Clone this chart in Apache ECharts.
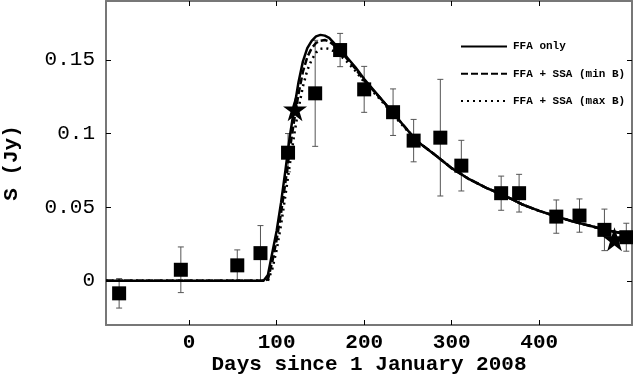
<!DOCTYPE html>
<html>
<head>
<meta charset="utf-8">
<script src="https://cdn.jsdelivr.net/npm/echarts@6/dist/echarts.min.js"></script>
<style>
  html, body { margin: 0; padding: 0; background: #fff; }
  #main { width: 633px; height: 375px; }
</style>
</head>
<body>
<div id="main"></div>
<script>
// observed points (days, flux, 1-sigma error)
var days    = [-80, -9.5, 55, 81.5, 113, 144, 172.5, 200, 233, 256.5, 287, 311, 356.5, 377, 419.5, 446, 474.5, 499.5];
var flux    = [-0.0085, 0.0075, 0.0105, 0.0188, 0.087, 0.1273, 0.1567, 0.130, 0.1145, 0.0952, 0.0972, 0.0782, 0.0595, 0.0595, 0.0436, 0.0443, 0.0346, 0.0296];
var fluxErr = [0.010, 0.0155, 0.0105, 0.0187, 0.013, 0.036, 0.0113, 0.0156, 0.0158, 0.0144, 0.0396, 0.0172, 0.0116, 0.0128, 0.0113, 0.0113, 0.0141, 0.0095];

// star markers
var starDays = [121, 486];
var starFlux = [0.1165, 0.0283];

// model curves
var modelDays = [-95, 80, 85, 90, 95, 100, 105, 110, 115, 120, 125, 130, 135, 140, 145, 150, 155, 160, 170, 180, 190, 200,
                 220, 240, 260, 280, 300, 320, 340, 360, 380, 400, 420, 440, 460, 480, 506];
var ffaOnly = [0, 0, 0, 0.004, 0.019, 0.034, 0.053, 0.075, 0.098, 0.117, 0.135, 0.149, 0.158, 0.163, 0.166, 0.167, 0.1665, 0.165, 0.1585, 0.152, 0.145, 0.137,
               0.123, 0.109, 0.095, 0.086, 0.0765, 0.069, 0.063, 0.058, 0.052, 0.0475, 0.0437, 0.040, 0.037, 0.034, 0.031];
var ssaMinB = [0, 0, 0, 0.001, 0.013, 0.028, 0.046, 0.067, 0.089, 0.109, 0.127, 0.142, 0.152, 0.158, 0.1615, 0.163, 0.1635, 0.1625, 0.158, 0.151, 0.144, 0.136,
               0.123, 0.109, 0.095, 0.086, 0.0765, 0.069, 0.063, 0.058, 0.052, 0.0475, 0.0437, 0.040, 0.037, 0.034, 0.031];
var ssaMaxB = [0, 0, 0, 0, 0.008, 0.021, 0.038, 0.058, 0.079, 0.099, 0.117, 0.132, 0.143, 0.150, 0.155, 0.1575, 0.158, 0.1575, 0.1545, 0.149, 0.1425, 0.135,
               0.122, 0.108, 0.095, 0.086, 0.0765, 0.069, 0.063, 0.058, 0.052, 0.0475, 0.0437, 0.040, 0.037, 0.034, 0.031];

var xTicks = [0, 100, 200, 300, 400];
var yTicks = [0, 0.05, 0.1, 0.15];

function pairs(xs, ys) {
  var out = [];
  for (var i = 0; i < xs.length; i++) out.push([xs[i], ys[i]]);
  return out;
}
var errData = [];
for (var i = 0; i < days.length; i++) errData.push([days[i], flux[i], fluxErr[i]]);

var mono = 'Liberation Mono';
var frameColor = '#777';
var starPath = 'path://M50,0 L61.8,36.2 L100,36.2 L69.1,58.6 L80.9,95.1 L50,72.7 L19.1,95.1 L30.9,58.6 L0,36.2 L38.2,36.2 Z';

function frameAxis(extra) {
  var a = {
    type: 'value',
    axisLine: { show: true, onZero: false, lineStyle: { color: frameColor, width: 2 } },
    axisTick: { inside: true, length: 5, lineStyle: { color: '#000' } },
    splitLine: { show: false }
  };
  for (var k in extra) a[k] = extra[k];
  return a;
}

var myChart = echarts.init(document.getElementById('main'));
myChart.setOption({
  animation: false,
  grid: { left: 106, right: 1, top: 1, bottom: 50, outerBoundsMode: 'none', containLabel: false },
  legend: {
    orient: 'vertical',
    left: 455, top: 36,
    itemWidth: 46, itemHeight: 14, itemGap: 16,
    data: ['FFA only', 'FFA + SSA (min B)', 'FFA + SSA (max B)'],
    itemStyle: { opacity: 0 },
    textStyle: { fontFamily: mono, fontWeight: 'bold', fontSize: 11, color: '#000', padding: [0, 0, 0, 1] }
  },
  xAxis: [
    frameAxis({
      min: -95, max: 506,
      name: 'Days since 1 January 2008', nameLocation: 'middle', nameGap: 29, nameMoveOverlap: false,
      nameTextStyle: { fontFamily: mono, fontWeight: 'bold', fontSize: 21, color: '#000' },
      axisTick: { inside: true, length: 5, customValues: xTicks, lineStyle: { color: '#000' } },
      axisLabel: { customValues: xTicks, margin: 7, fontFamily: mono, fontWeight: 'bold', fontSize: 21, color: '#000' }
    }),
    frameAxis({
      min: -95, max: 506, position: 'top',
      axisTick: { inside: true, length: 5, customValues: xTicks, lineStyle: { color: '#000' } },
      axisLabel: { show: false }
    })
  ],
  yAxis: [
    frameAxis({
      min: -0.03, max: 0.19,
      name: 'S (Jy)', nameLocation: 'middle', nameGap: 84, nameRotate: 90,
      nameTextStyle: { fontFamily: mono, fontWeight: 'bold', fontSize: 21, color: '#000' },
      axisTick: { inside: true, length: 5, customValues: yTicks, lineStyle: { color: '#000' } },
      axisLabel: { customValues: yTicks, margin: 11, fontFamily: mono, fontSize: 21, color: '#000' }
    }),
    frameAxis({
      min: -0.03, max: 0.19, position: 'right',
      axisTick: { inside: true, length: 5, customValues: yTicks, lineStyle: { color: '#000' } },
      axisLabel: { show: false }
    })
  ],
  series: [
    {
      name: 'errors', type: 'custom', z: 2,
      renderItem: function (params, api) {
        var x = api.value(0), y = api.value(1), e = api.value(2);
        var hi = api.coord([x, y + e]);
        var lo = api.coord([x, y - e]);
        var st = { stroke: '#555', lineWidth: 1 };
        return {
          type: 'group',
          children: [
            { type: 'line', shape: { x1: hi[0], y1: hi[1], x2: lo[0], y2: lo[1] }, style: st },
            { type: 'line', shape: { x1: hi[0] - 3, y1: hi[1], x2: hi[0] + 3, y2: hi[1] }, style: st },
            { type: 'line', shape: { x1: lo[0] - 3, y1: lo[1], x2: lo[0] + 3, y2: lo[1] }, style: st }
          ]
        };
      },
      data: errData
    },
    {
      name: 'FFA only', type: 'line', symbol: 'none', z: 3,
      lineStyle: { color: '#000', width: 2.5, type: 'solid' }, itemStyle: { color: '#000' },
      data: pairs(modelDays, ffaOnly)
    },
    {
      name: 'FFA + SSA (min B)', type: 'line', symbol: 'none', z: 3,
      lineStyle: { color: '#000', width: 2.5, type: [7, 3] }, itemStyle: { color: '#000' },
      data: pairs(modelDays, ssaMinB)
    },
    {
      name: 'FFA + SSA (max B)', type: 'line', symbol: 'none', z: 3,
      lineStyle: { color: '#000', width: 2.5, type: [2, 4] }, itemStyle: { color: '#000' },
      data: pairs(modelDays, ssaMaxB)
    },
    {
      name: 'data', type: 'scatter', symbol: 'rect', symbolSize: 14, z: 4,
      itemStyle: { color: '#000', opacity: 1 },
      data: pairs(days, flux)
    },
    {
      name: 'stars', type: 'scatter', symbol: starPath, symbolSize: 24, z: 5,
      itemStyle: { color: '#000', opacity: 1 },
      data: pairs(starDays, starFlux)
    }
  ]
});
</script>
</body>
</html>
